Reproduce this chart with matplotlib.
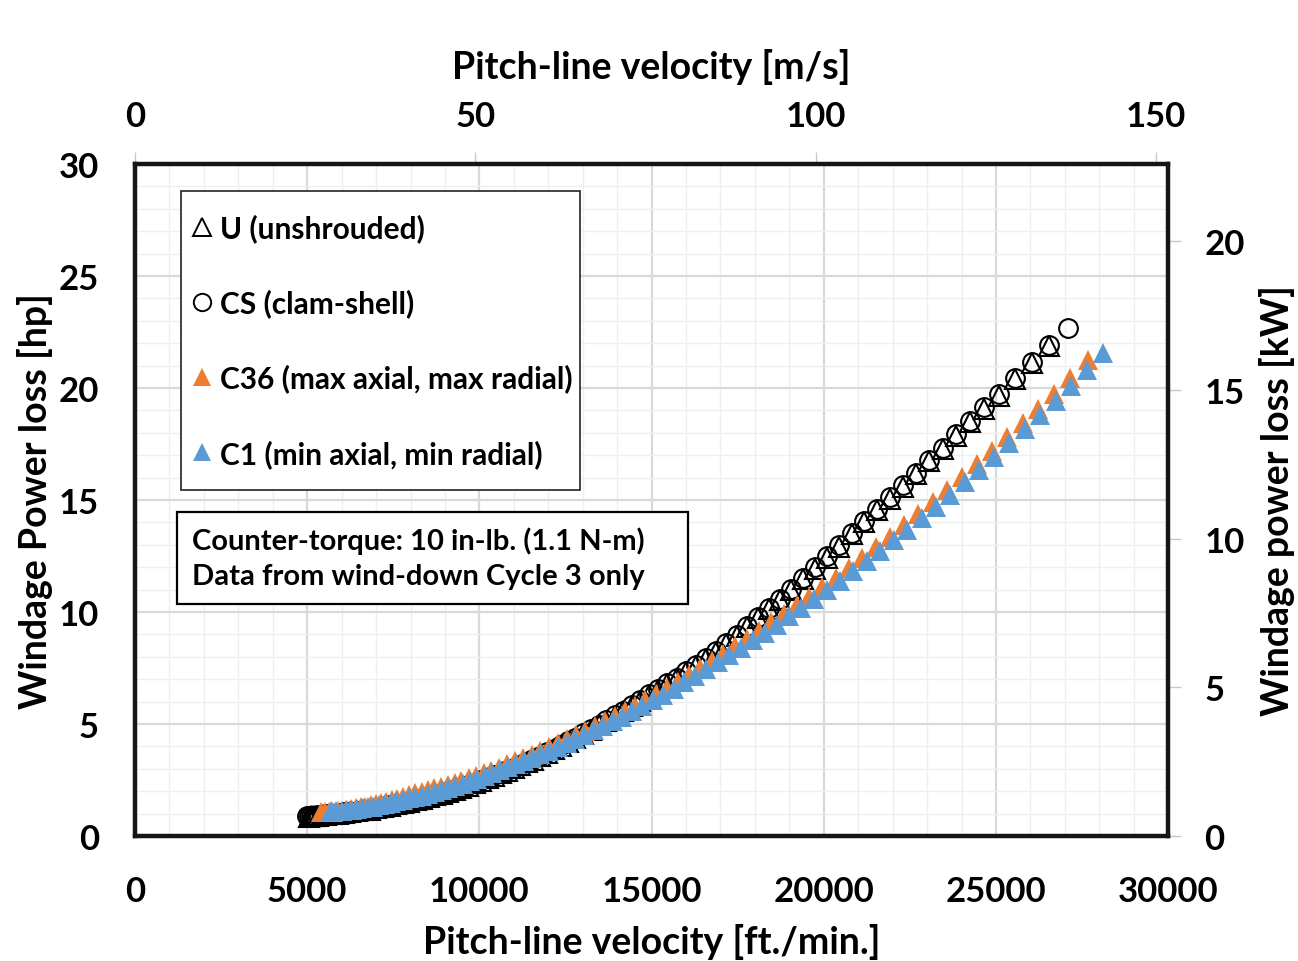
import matplotlib
matplotlib.use("Agg")
import matplotlib.pyplot as plt
from matplotlib.lines import Line2D
from matplotlib.patches import Rectangle
from matplotlib.ticker import MultipleLocator

plt.rcParams['font.family'] = ['Lato', 'DejaVu Sans']
plt.rcParams['font.weight'] = 'bold'

# ---------------- data (pitch-line velocity [ft/min], windage power loss [hp]) ----------------
U_x = [5050, 5100, 5160, 5230, 5320, 5430, 5560, 5710, 5880, 6060, 6250, 6440, 6630, 6820, 7010,
       7200, 7390, 7580, 7770, 7960, 8150, 8340, 8530, 8720, 8910, 9100, 9290, 9480, 9670, 9860,
       10050, 10240, 10430, 10620, 10810, 11000, 11190, 11380, 11570, 11770, 11970, 12170, 12370,
       12580, 12790, 13010, 13230, 13460, 13690, 13930, 14170, 14420, 14670, 14930, 15190, 15460,
       15730, 16010, 16290, 16580, 16870, 17170, 17470, 17780, 18090, 18410, 18730, 19060, 19400,
       19750, 20100, 20450, 20810, 21170, 21540, 21910, 22290, 22670, 23060, 23450, 23850, 24250,
       24660, 25080, 25560, 26050, 26550]
U_y = [0.86, 0.87, 0.88, 0.89, 0.90, 0.92, 0.95, 0.97, 1.00, 1.03, 1.06, 1.10, 1.14, 1.18, 1.23,
       1.29, 1.35, 1.41, 1.47, 1.53, 1.60, 1.67, 1.74, 1.82, 1.89, 1.98, 2.06, 2.15, 2.25, 2.35,
       2.46, 2.57, 2.68, 2.79, 2.91, 3.03, 3.16, 3.28, 3.41, 3.56, 3.71, 3.87, 4.03,
       4.20, 4.37, 4.56, 4.75, 4.94, 5.14, 5.35, 5.57, 5.80, 6.03, 6.29, 6.53, 6.77,
       7.03, 7.31, 7.59, 7.89, 8.21, 8.55, 8.91, 9.31, 9.71, 10.12, 10.54, 10.97, 11.45,
       11.94, 12.43, 12.92, 13.46, 14.00, 14.55, 15.06, 15.60, 16.15, 16.72, 17.27, 17.87, 18.47,
       19.07, 19.65, 20.38, 21.12, 21.87]

CS_x = [5000, 5050, 5100, 5160, 5230, 5320, 5430, 5560, 5710, 5880, 6060, 6250, 6440, 6630, 6820,
        7010, 7200, 7390, 7580, 7770, 7960, 8150, 8340, 8530, 8720, 8910, 9100, 9290, 9480, 9670,
        9860, 10050, 10240, 10430, 10620, 10810, 11000, 11190, 11380, 11570, 11770, 11970, 12170,
        12370, 12580, 12790, 13010, 13230, 13460, 13690, 13930, 14170, 14420, 14670, 14930, 15190,
        15460, 15730, 16010, 16290, 16580, 16870, 17170, 17470, 17780, 18090, 18410, 18730, 19060,
        19400, 19750, 20100, 20450, 20810, 21170, 21540, 21910, 22290, 22670, 23060, 23450, 23850,
        24250, 24660, 25080, 25560, 26050, 26550, 27100]
CS_y = [0.88, 0.88, 0.89, 0.90, 0.91, 0.92, 0.94, 0.97, 0.99, 1.02, 1.05, 1.08, 1.12, 1.16, 1.20,
        1.25, 1.31, 1.37, 1.43, 1.49, 1.55, 1.62, 1.69, 1.76, 1.84, 1.91, 2.00, 2.08, 2.17, 2.27,
        2.37, 2.48, 2.59, 2.70, 2.81, 2.93, 3.05, 3.18, 3.30, 3.43, 3.58, 3.73, 3.89,
        4.05, 4.22, 4.39, 4.58, 4.78, 4.97, 5.17, 5.38, 5.60, 5.83, 6.07, 6.33, 6.57,
        6.81, 7.07, 7.36, 7.64, 7.94, 8.26, 8.60, 8.96, 9.36, 9.77, 10.18, 10.60, 11.03,
        11.51, 12.00, 12.49, 12.98, 13.52, 14.06, 14.61, 15.12, 15.66, 16.21, 16.78, 17.33, 17.93,
        18.53, 19.13, 19.71, 20.44, 21.18, 21.93, 22.68]

C36_x = [5400, 5520, 5640, 5760, 5880, 6010, 6140, 6270, 6410, 6550, 6690, 6840, 6990, 7140, 7300,
         7460, 7620, 7790, 7960, 8140, 8320, 8500, 8690, 8880, 9080, 9280, 9480, 9690, 9900, 10120,
         10340, 10570, 10800, 11040, 11280, 11520, 11770, 12020, 12280, 12540, 12810, 13080, 13360,
         13640, 13930, 14220, 14520, 14820, 15130, 15440, 15760, 16080, 16410, 16740, 17080, 17420,
         17770, 18120, 18480, 18840, 19210, 19580, 19960, 20340, 20730, 21120, 21520, 21920, 22330,
         22740, 23160, 23580, 24010, 24440, 24880, 25320, 25770, 26220, 26680, 27140, 27680]
C36_y = [1.05, 1.06, 1.07, 1.09, 1.11, 1.13, 1.16, 1.19, 1.23, 1.27, 1.31, 1.36, 1.41, 1.47, 1.53,
         1.60, 1.67, 1.75, 1.83, 1.90, 1.97, 2.04, 2.12, 2.20, 2.28, 2.37, 2.46, 2.57, 2.68, 2.80,
         2.92, 3.05, 3.19, 3.33, 3.48, 3.63, 3.79, 3.96, 4.13, 4.31, 4.50, 4.69, 4.90,
         5.11, 5.34, 5.57, 5.82, 6.07, 6.33, 6.60, 6.89, 7.18, 7.48, 7.79, 8.12, 8.46,
         8.81, 9.16, 9.53, 9.90, 10.29, 10.68, 11.10, 11.52, 11.96, 12.41, 12.88, 13.36, 13.86,
         14.37, 14.90, 15.45, 16.01, 16.59, 17.18, 17.79, 18.43, 19.07, 19.75, 20.43, 21.25]

C1_x = [5700, 5850, 6000, 6150, 6300, 6450, 6600, 6760, 6920, 7080, 7250, 7420, 7590, 7770, 7950,
        8130, 8320, 8510, 8700, 8900, 9100, 9300, 9510, 9720, 9930, 10150, 10370, 10590, 10820,
        11050, 11290, 11530, 11770, 12020, 12270, 12530, 12790, 13050, 13320, 13590, 13870, 14150,
        14440, 14730, 15030, 15330, 15640, 15950, 16270, 16590, 16920, 17250, 17590, 17930, 18280,
        18630, 18990, 19350, 19720, 20090, 20470, 20850, 21240, 21630, 22030, 22430, 22840, 23250,
        23670, 24090, 24520, 24950, 25390, 25830, 26280, 26730, 27190, 27650, 28100]
C1_y = [1.10, 1.11, 1.13, 1.15, 1.17, 1.20, 1.23, 1.27, 1.31, 1.36, 1.42, 1.48, 1.54, 1.61, 1.68,
        1.75, 1.80, 1.87, 1.95, 2.04, 2.13, 2.23, 2.34, 2.45, 2.56, 2.68, 2.80, 2.93, 3.06,
        3.20, 3.35, 3.50, 3.65, 3.81, 3.98, 4.15, 4.33, 4.51, 4.71, 4.91, 5.12, 5.33,
        5.56, 5.80, 6.05, 6.31, 6.58, 6.86, 7.15, 7.44, 7.75, 8.06, 8.39, 8.73, 9.08,
        9.43, 9.80, 10.18, 10.58, 10.98, 11.40, 11.83, 12.27, 12.73, 13.20, 13.68, 14.19, 14.70,
        15.24, 15.79, 16.35, 16.93, 17.54, 18.15, 18.79, 19.43, 20.11, 20.80, 21.55]

series_labels = ["U (unshrouded)", "CS (clam-shell)",
                 "C36 (max axial, max radial)", "C1 (min axial, min radial)"]
x_ticks = [0, 5000, 10000, 15000, 20000, 25000, 30000]
y_ticks = [0, 5, 10, 15, 20, 25, 30]
top_ticks = [0, 50, 100, 150]
right_ticks = [0, 5, 10, 15, 20]
note_text = "Counter-torque: 10 in-lb. (1.1 N-m)\nData from wind-down Cycle 3 only"

ORANGE = '#ED7D31'
BLUE = '#5B9BD5'

FT_MIN_TO_M_S = 0.00506   # top axis scale as drawn (0..151.9 m/s)
HP_TO_KW = 0.7533         # right axis scale as drawn (0..22.6 kW)

fig = plt.figure(figsize=(12.98, 9.62), dpi=100)
ax = fig.add_axes([0.104, 0.130, 0.796, 0.6985])

ax.set_xlim(0, 30000)
ax.set_ylim(0, 30)
ax.set_xticks(x_ticks)
ax.set_yticks(y_ticks)
ax.xaxis.set_minor_locator(MultipleLocator(1000))
ax.yaxis.set_minor_locator(MultipleLocator(1))
ax.grid(which='major', color='#d9d9d9', lw=1.6, zorder=0)
ax.grid(which='minor', color='#efefef', lw=1.0, zorder=0)
ax.set_axisbelow(True)
ax.tick_params(which='both', length=0, labelsize=25)
ax.tick_params(axis='x', pad=28)
ax.tick_params(axis='y', pad=26)
for lab in ax.get_xticklabels() + ax.get_yticklabels():
    lab.set_fontweight('bold')
for s in ax.spines.values():
    s.set_linewidth(3.2)
    s.set_color('#151515')
    s.set_zorder(5)

ms_tri = 14
ms_circ = 13.5
ax.plot(U_x, U_y, ls='none', marker='^', ms=ms_tri, mfc='none', mec='black', mew=1.5, zorder=3)
ax.plot(CS_x, CS_y, ls='none', marker='o', ms=ms_circ, mfc='none', mec='black', mew=1.5, zorder=3)
ax.plot(C36_x, C36_y, ls='none', marker='^', ms=ms_tri, mfc=ORANGE, mec=ORANGE, mew=0, zorder=3)
ax.plot(C1_x, C1_y, ls='none', marker='^', ms=ms_tri, mfc=BLUE, mec=BLUE, mew=0, zorder=3)

ax.set_xlabel("Pitch-line velocity [ft./min.]", fontsize=27, fontweight='bold', labelpad=12)
ax.set_ylabel("Windage Power loss [hp]", fontsize=27, fontweight='bold', labelpad=4)

# secondary axes
secx = ax.secondary_xaxis('top', functions=(lambda v: v * FT_MIN_TO_M_S, lambda v: v / FT_MIN_TO_M_S))
secx.set_xticks(top_ticks)
secx.tick_params(length=9, width=1, color='#c8c8c8', labelsize=25, pad=14)
secx.set_xlabel("Pitch-line velocity [m/s]", fontsize=27, fontweight='bold', labelpad=16)
secx.spines['top'].set_visible(False)
for lab in secx.get_xticklabels():
    lab.set_fontweight('bold')

secy = ax.secondary_yaxis('right', functions=(lambda v: v * HP_TO_KW, lambda v: v / HP_TO_KW))
secy.set_yticks(right_ticks)
secy.tick_params(length=9, width=1, color='#c8c8c8', labelsize=25, pad=17)
secy.set_ylabel("Windage power loss [kW]", fontsize=27, fontweight='bold', labelpad=10)
secy.spines['right'].set_visible(False)
for lab in secy.get_yticklabels():
    lab.set_fontweight('bold')

# legend: frame drawn as rectangle, entries by ax.legend
ax.add_patch(Rectangle((0.0445, 0.5149), 0.3863, 0.445, transform=ax.transAxes,
                       fc='white', ec='#222222', lw=1.2, zorder=6))
handles = [
    Line2D([], [], ls='none', marker='^', ms=13, mfc='none', mec='black', mew=1.4),
    Line2D([], [], ls='none', marker='o', ms=12.5, mfc='none', mec='black', mew=1.4),
    Line2D([], [], ls='none', marker='^', ms=13, mfc=ORANGE, mec=ORANGE, mew=0),
    Line2D([], [], ls='none', marker='^', ms=13, mfc=BLUE, mec=BLUE, mew=0),
]
leg = ax.legend(handles, series_labels, loc='upper left', bbox_to_anchor=(0.0532, 0.927),
                labelspacing=1.55, handlelength=0.8, handletextpad=0.2,
                borderpad=0, borderaxespad=0, frameon=False,
                prop={'weight': 'bold', 'size': 21.5})
leg.set_zorder(7)

# note box
ax.add_patch(Rectangle((0.0407, 0.345), 0.4947, 0.1369, transform=ax.transAxes,
                       fc='white', ec='black', lw=1.6, zorder=6))
ax.text(0.055, 0.4137, note_text, transform=ax.transAxes, ha='left', va='center',
        fontsize=21, fontweight='bold', linespacing=1.45, zorder=7)

fig.savefig("out.png", dpi=100)
